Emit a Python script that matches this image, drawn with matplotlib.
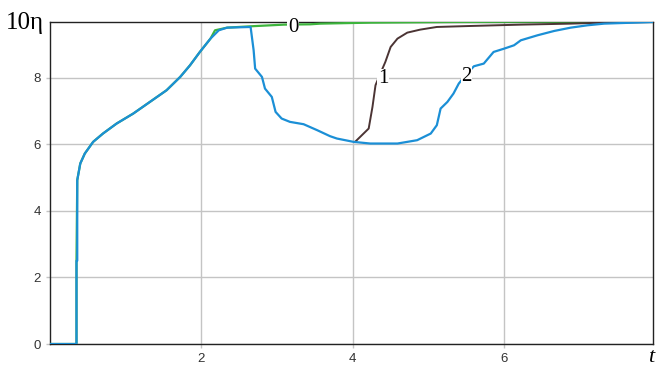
import matplotlib
matplotlib.use("Agg")
import matplotlib.pyplot as plt

# curve 0 (green)
t0 = [0.0, 0.35, 0.35, 0.36, 0.40, 0.46, 0.57, 0.70, 0.88, 1.10, 1.32, 1.54, 1.72, 1.85, 1.98,
      2.12, 2.18, 2.34, 2.65, 3.09, 3.44, 3.57, 4.23, 5.33, 6.5, 7.97]
y0 = [0.0, 0.0, 2.5, 4.92, 5.42, 5.72, 6.07, 6.32, 6.62, 6.92, 7.27, 7.62, 8.02, 8.37, 8.77,
      9.17, 9.42, 9.50, 9.54, 9.59, 9.60, 9.62, 9.65, 9.67, 9.68, 9.68]

# curve 1 (brown), leaves curve 2 at t = 4
t1 = [4.03, 4.21, 4.26, 4.30, 4.36, 4.43, 4.50, 4.59, 4.72, 4.89, 5.11, 5.56, 6.22, 6.88, 7.31, 7.97]
y1 = [6.07, 6.47, 7.12, 7.77, 8.1, 8.47, 8.92, 9.17, 9.35, 9.44, 9.52, 9.55, 9.59, 9.62, 9.65, 9.67]

# curve 2 (blue)
t2 = [0.0, 0.35, 0.35, 0.36, 0.36, 0.40, 0.46, 0.57, 0.70, 0.88, 1.10, 1.32, 1.54, 1.72, 1.85,
      1.98, 2.12, 2.23, 2.34, 2.65, 2.69, 2.71, 2.80, 2.84, 2.93, 2.98, 3.06, 3.17, 3.35, 3.53,
      3.70, 3.79, 4.01, 4.23, 4.59, 4.85, 5.03, 5.11, 5.16, 5.25, 5.33, 5.40, 5.50, 5.60, 5.73,
      5.86, 6.00, 6.13, 6.22, 6.44, 6.66, 6.88, 7.10, 7.32, 7.97]
y2 = [0.0, 0.0, 2.5, 2.5, 4.92, 5.42, 5.72, 6.07, 6.32, 6.62, 6.92, 7.27, 7.62, 8.02, 8.37,
      8.77, 9.17, 9.42, 9.50, 9.52, 8.82, 8.27, 8.02, 7.67, 7.42, 6.97, 6.77, 6.67, 6.60, 6.42,
      6.24, 6.17, 6.07, 6.02, 6.02, 6.12, 6.32, 6.57, 7.07, 7.27, 7.52, 7.82, 8.1, 8.34, 8.42,
      8.77, 8.87, 8.97, 9.12, 9.27, 9.40, 9.50, 9.57, 9.62, 9.67]

fig = plt.figure(figsize=(6.57, 3.68), dpi=100)
ax = fig.add_axes([0.0761, 0.0652, 0.9183, 0.876])

ax.plot(t0, y0, color="#3db43d", lw=1.6, zorder=3)
ax.plot(t1, y1, color="#4b3434", lw=1.4, zorder=4)
ax.plot(t2, y2, color="#1b8fd6", lw=1.6, zorder=5)

box = dict(facecolor="white", edgecolor="none", pad=0.3)
ax.text(3.21, 9.50, "0", family="Liberation Serif", fontsize=15, ha="center", va="center", bbox=box, zorder=6)
ax.text(4.40, 7.97, "1", family="Liberation Serif", fontsize=15, ha="center", va="center", bbox=box, zorder=6)
ax.text(5.50, 8.04, "2", family="Liberation Serif", fontsize=15, ha="center", va="center", bbox=box, zorder=6)

ax.set_xlim(0, 7.97)
ax.set_ylim(0, 9.68)
ax.set_xticks([2, 4, 6])
ax.set_yticks([0, 2, 4, 6, 8])
ax.grid(True, color="#c4c4c4", lw=1.0)
ax.tick_params(colors="#c4c4c4", labelcolor="#333333", labelsize=9.5, length=3, width=1.0)
for lab in ax.get_xticklabels() + ax.get_yticklabels():
    lab.set_family("Liberation Sans")
for s in ax.spines.values():
    s.set_color("#222222")
    s.set_linewidth(1.0)

fig.text(25 / 657, 1 - 23 / 368, "10η", family="Liberation Serif", fontsize=18, ha="center", va="center")
fig.text(651 / 657, 1 - 358 / 368, "t", family="Liberation Serif", style="italic", fontsize=16, ha="center", va="center")

fig.savefig("out.png", dpi=100)
